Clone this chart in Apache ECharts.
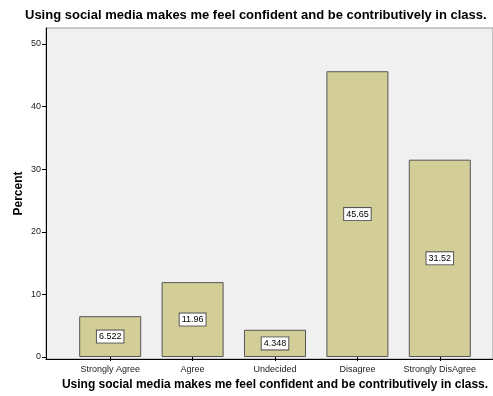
<!DOCTYPE html>
<html>
<head>
<meta charset="utf-8">
<script src="https://cdn.jsdelivr.net/npm/echarts@6/dist/echarts.min.js"></script>
<style>html,body{margin:0;padding:0;background:#fff;}#c{width:493px;height:396px;}</style>
</head>
<body>
<div id="c"></div>
<script>
const titleText = "Using social media makes me feel confident and be contributively in class.";
const categories = ["Strongly Agree", "Agree", "Undecided", "Disagree", "Strongly DisAgree"];
const percentValues = [6.522, 11.96, 4.348, 45.65, 31.52];
const yTicks = [0, 10, 20, 30, 40, 50];

const chart = echarts.init(document.getElementById('c'), null, {renderer: 'canvas'});
const font = 'Liberation Sans, Arial, sans-serif';
chart.setOption({
  animation: false,
  backgroundColor: '#ffffff',
  title: {
    text: titleText, left: 20, top: 4,
    textStyle: {fontFamily: font, fontSize: 13, fontWeight: 'bold', color: '#000'}
  },
  grid: [
    {left: 46, right: 0, top: 28, bottom: 37, show: true, backgroundColor: '#f0f0f0', borderColor: '#999', borderWidth: 1, containLabel: false},
    {left: 69, right: 12, top: 44, bottom: 37, containLabel: false}
  ],
  xAxis: [
    {gridIndex: 0, type: 'value', min: 0, max: 1,
     axisLine: {show: true, lineStyle: {color: '#000', width: 1}},
     axisTick: {show: false}, axisLabel: {show: false}, splitLine: {show: false}},
    {gridIndex: 1, type: 'category', data: categories,
     axisLine: {show: false},
     axisTick: {show: true, alignWithLabel: true, length: 4, lineStyle: {color: '#000'}},
     axisLabel: {fontFamily: font, fontSize: 9, color: '#222', margin: 8, interval: 0},
     name: titleText, nameLocation: 'middle', nameGap: 22,
     nameTextStyle: {fontFamily: font, fontSize: 12, fontWeight: 'bold', color: '#000'}}
  ],
  yAxis: [
    {gridIndex: 0, type: 'value', min: 0, max: 1,
     axisLine: {show: true, lineStyle: {color: '#000', width: 1}},
     axisTick: {show: false}, axisLabel: {show: false}, splitLine: {show: false},
     name: 'Percent', nameLocation: 'middle', nameGap: 21,
     nameTextStyle: {fontFamily: font, fontSize: 12, fontWeight: 'bold', color: '#000'}},
    {gridIndex: 1, type: 'value', min: yTicks[0], max: yTicks[yTicks.length - 1], interval: 10, offset: 23,
     axisLine: {show: false},
     axisTick: {show: true, length: 4, lineStyle: {color: '#000'}},
     axisLabel: {fontFamily: font, fontSize: 9, color: '#222', margin: 5},
     splitLine: {show: false}}
  ],
  series: [{
    type: 'bar', xAxisIndex: 1, yAxisIndex: 1,
    data: percentValues,
    barWidth: 62,
    itemStyle: {color: '#d3ce98', borderColor: '#555', borderWidth: 1},
    label: {
      show: true, position: 'inside',
      formatter: p => String(p.value),
      fontFamily: font, fontSize: 9, color: '#000',
      backgroundColor: '#fff', borderColor: '#555', borderWidth: 1,
      padding: [2, 2, 1, 2]
    }
  }]
});
</script>
</body>
</html>
